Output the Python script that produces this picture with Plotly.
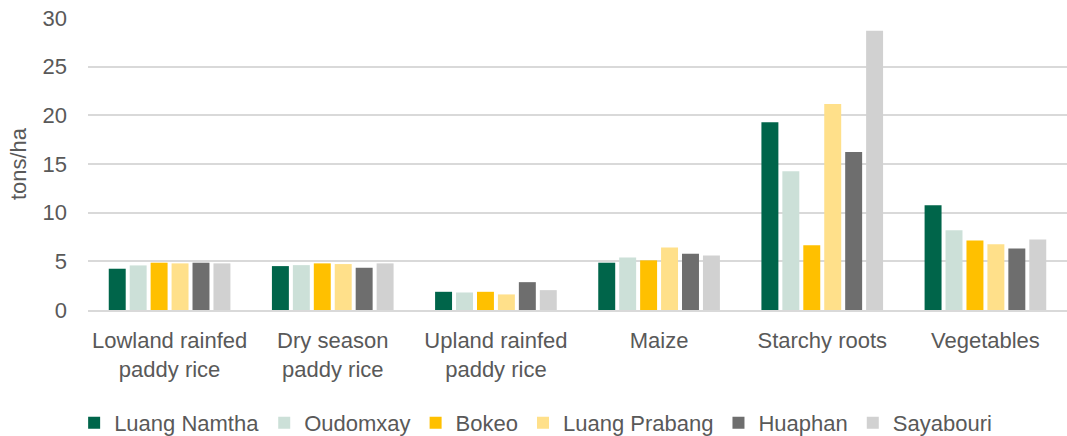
import plotly.graph_objects as go

categories = ["Lowland rainfed<br>paddy rice", "Dry season<br>paddy rice", "Upland rainfed<br>paddy rice",
              "Maize", "Starchy roots", "Vegetables"]
luang_namtha = [4.24, 4.51, 1.87, 4.86, 19.29, 10.75]
oudomxay = [4.58, 4.61, 1.80, 5.40, 14.25, 8.20]
bokeo = [4.86, 4.79, 1.87, 5.10, 6.66, 7.14]
luang_prabang = [4.79, 4.72, 1.60, 6.43, 21.17, 6.76]
huaphan = [4.86, 4.34, 2.86, 5.78, 16.23, 6.32]
sayabouri = [4.79, 4.79, 2.04, 5.60, 28.69, 7.24]

series = [
    ("Luang Namtha", luang_namtha, "#00654A"),
    ("Oudomxay", oudomxay, "#CCE0D8"),
    ("Bokeo", bokeo, "#FFC000"),
    ("Luang Prabang", luang_prabang, "#FFE08A"),
    ("Huaphan", huaphan, "#6E6E6E"),
    ("Sayabouri", sayabouri, "#D1D1D1"),
]

FONT = "Liberation Sans"
TXT = "#595959"

fig = go.Figure()
for name, vals, color in series:
    fig.add_trace(go.Bar(name=name, x=categories, y=vals, marker=dict(color=color, line=dict(width=0))))

fig.update_layout(
    width=1067, height=436,
    barmode="group", bargap=0.23, bargroupgap=0.19,
    plot_bgcolor="white", paper_bgcolor="white",
    margin=dict(l=88, r=0, t=18, b=126),
    font=dict(family=FONT, size=22, color=TXT),
    legend=dict(orientation="h", xref="container", yref="container", x=0.502, xanchor="center",
                y=0.03, yanchor="middle", font=dict(size=22, color=TXT), itemwidth=30,
                traceorder="normal"),
    showlegend=True,
)
fig.update_yaxes(range=[0, 30], dtick=5, showgrid=True, gridcolor="#D9D9D9", gridwidth=1.5,
                 zeroline=False, showline=False, ticks="", ticklabelstandoff=20,
                 title=dict(text="tons/ha", font=dict(size=22, color=TXT), standoff=9),
                 tickfont=dict(size=22, color=TXT))
fig.update_xaxes(showline=True, linecolor="#D9D9D9", linewidth=2, ticks="", ticklabelstandoff=10,
                 tickfont=dict(size=22, color=TXT))

fig.write_html("out.html", config={"displayModeBar": False},
               post_script="document.body.style.margin='0';document.body.style.overflow='hidden';")
